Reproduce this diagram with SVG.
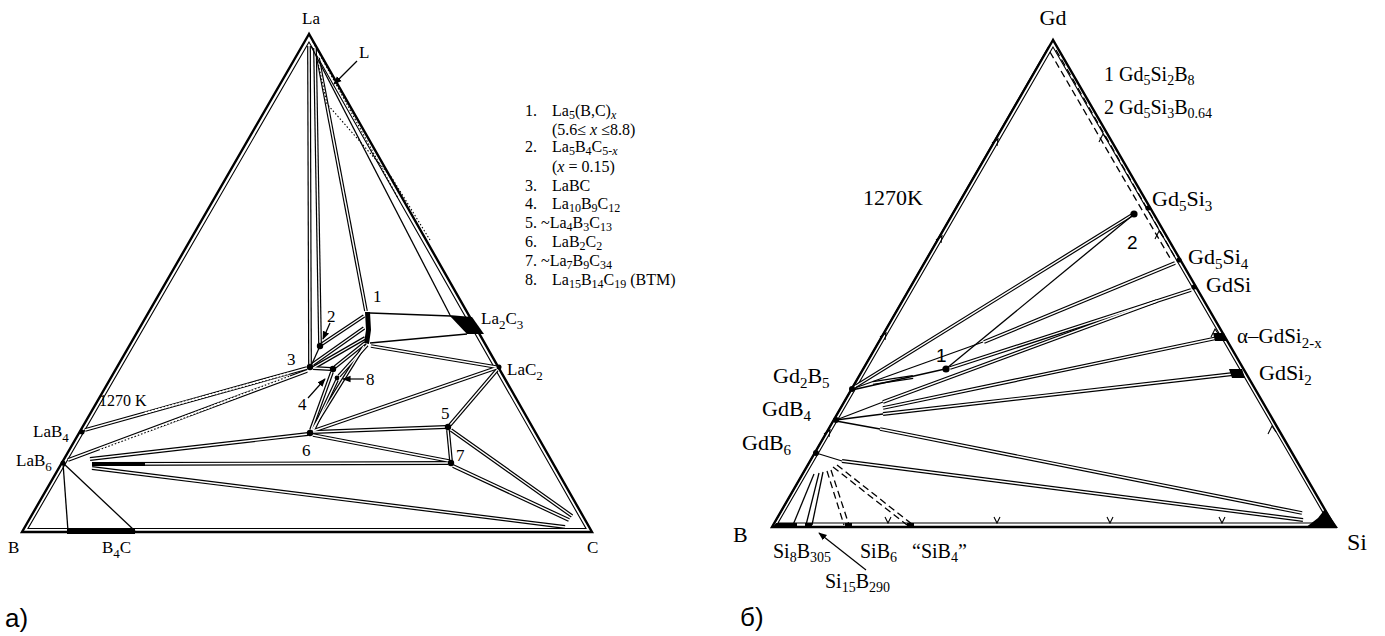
<svg xmlns="http://www.w3.org/2000/svg" width="1385" height="636" viewBox="0 0 1385 636">
<defs>
<style>
.t{font-family:"Liberation Serif","Times New Roman",serif;fill:#000}
.s{font-family:"Liberation Sans",Arial,sans-serif;fill:#000}
.edge{fill:none;stroke:#000;stroke-width:2.4;stroke-linejoin:miter}
.thin{fill:none;stroke:#000;stroke-width:1.1}
.one{fill:none;stroke:#000;stroke-width:1.3}
.dash{fill:none;stroke:#000;stroke-width:1.3;stroke-dasharray:7 4}
.dot{fill:none;stroke:#000;stroke-width:1.1;stroke-dasharray:1.5 2}
.arr{fill:none;stroke:#000;stroke-width:1.2;marker-end:url(#ah)}
.hat{fill:none;stroke:#fff;stroke-width:2;stroke-dasharray:2 1.5}
.blk{fill:#000;stroke:none}
</style>
<marker id="ah" viewBox="0 0 10 10" refX="9" refY="5" markerWidth="7" markerHeight="7" orient="auto"><path d="M0,1 L10,5 L0,9 z" fill="#000"/></marker>
<g id="dblL">
<path d="M309,46 L310,364"/>
<path d="M315,48 L320,343"/>
<path d="M318,58 L366,311"/>
<path d="M371,346 L496,367"/>
<path d="M322,344 L364,316"/>
<path d="M313,364 L364,328"/>
<path d="M313,368 L365,338"/>
<path d="M313,368 L331,369"/>
<path d="M312,430 L364,346"/>
<path d="M311,430 L332,372"/>
<path d="M313,431 L337,380"/>
<path d="M335,367 L365,343"/>
<path d="M339,376 L367,345"/>
<path d="M85,430 L307,368"/>
<path d="M68,460 L307,371"/>
<path d="M90,459 L308,434"/>
<path d="M92,464 L448,463"/>
<path d="M92,468 L565,527"/>
<path d="M313,432 L446,427"/>
<path d="M313,435 L449,461"/>
<path d="M313,431 L496,368"/>
<path d="M450,425 L497,370"/>
<path d="M448,430 L451,461"/>
<path d="M451,430 L572,516"/>
<path d="M453,466 L569,520"/>
</g>
<g id="dblR">
<path d="M856,386 L1132,215"/>
<path d="M984,342 L1175,263"/>
<path d="M950,368 L1191,290"/>
<path d="M873,383 L913,377"/>
<path d="M883,402 L1157,301"/>
<path d="M883,408 L1217,338"/>
<path d="M883,414 L1233,374"/>
<path d="M880,429 L1302,513"/>
<path d="M842,461 L1303,520"/>
</g>
</defs>
<rect width="1385" height="636" fill="#fff"/>

<g id="diagram-a">
<g id="a-frame">
<path class="edge" d="M309,34 L22,532 L592,532 Z"/>
<path class="thin" d="M309,42 L28,528.5 L586,528.5 Z"/>
<rect class="blk" x="67" y="529" width="68" height="5"/>
</g>
<g id="a-connectors">
<use href="#dblL" fill="none" stroke="#000" stroke-width="3.8"/>
<use href="#dblL" fill="none" stroke="#fff" stroke-width="1.4"/>
<path class="hat" d="M145,413 L290,373"/>
<path class="hat" d="M100,450 L290,376"/>
<path d="M92,464 L145,464" stroke="#000" stroke-width="3.8"/>
<path class="one" d="M311,46 L450,315"/>
<path class="one" d="M370,313 L451,316"/>
<path class="one" d="M370,343 L467,334"/>
<path class="one" d="M63,463 L68,531"/>
<path class="one" d="M63,463 L135,531"/>
<path class="one" d="M320,346 L311,366"/>
<path class="dot" d="M313,42 L398,198"/>
<path class="dot" d="M317,58 L327,104 L392,178 L430,240"/>
<path class="arr" d="M357,61 L334,84"/>
<path class="arr" d="M330,323 L323,339"/>
<path class="arr" d="M308,398 L325,379"/>
<path class="arr" d="M364,379 L343,379"/>
</g>
<g id="a-nodes">
<path class="blk" d="M365,312 L370,312 L371,330 L369,344 L364,343 L366,330 Z"/>
<polygon class="blk" points="449,315 472,317 484,334 467,334"/>
<circle class="blk" cx="320" cy="346" r="3.2"/>
<circle class="blk" cx="310" cy="367" r="3.2"/>
<circle class="blk" cx="333" cy="369" r="3.2"/>
<circle class="blk" cx="337" cy="378" r="2.4"/>
<circle class="blk" cx="310" cy="433" r="3.2"/>
<circle class="blk" cx="448" cy="427" r="3.2"/>
<circle class="blk" cx="451" cy="463" r="3.2"/>
<circle class="blk" cx="499" cy="367" r="2.5"/>
<circle class="blk" cx="63" cy="463" r="2.5"/>
<circle class="blk" cx="82" cy="432" r="2.5"/>
</g>
<g id="a-labels" font-size="17">
<text class="t" x="311" y="24" text-anchor="middle">La</text>
<text class="t" x="359" y="58">L</text>
<text class="t" x="99" y="406" font-size="16">1270 K</text>
<text class="t" x="33" y="437">LaB<tspan dy="5" font-size="13">4</tspan></text>
<text class="t" x="16" y="466">LaB<tspan dy="5" font-size="13">6</tspan></text>
<text class="t" x="8" y="553">B</text>
<text class="t" x="102" y="553">B<tspan dy="5" font-size="13">4</tspan><tspan dy="-5">C</tspan></text>
<text class="t" x="587" y="553">C</text>
<text class="t" x="481" y="324">La<tspan dy="5" font-size="13">2</tspan><tspan dy="-5">C</tspan><tspan dy="5" font-size="13">3</tspan></text>
<text class="t" x="507" y="375">LaC<tspan dy="5" font-size="13">2</tspan></text>
<text class="t" x="373" y="302">1</text>
<text class="t" x="327" y="322">2</text>
<text class="t" x="287" y="365">3</text>
<text class="t" x="298" y="410">4</text>
<text class="t" x="366" y="385">8</text>
<text class="t" x="302" y="456">6</text>
<text class="t" x="441" y="419">5</text>
<text class="t" x="456" y="461">7</text>
<g class="t" font-size="16">
<text x="525" y="116">1.</text>
<text x="552" y="116">La<tspan dy="3" font-size="12">5</tspan><tspan dy="-3">(B,C)</tspan><tspan dy="3" font-size="12" font-style="italic">x</tspan></text>
<text x="552" y="135">(5.6≤ <tspan font-style="italic">x</tspan> ≤8.8)</text>
<text x="525" y="152">2.</text>
<text x="552" y="152">La<tspan dy="3" font-size="12">5</tspan><tspan dy="-3">B</tspan><tspan dy="3" font-size="12">4</tspan><tspan dy="-3">C</tspan><tspan dy="3" font-size="12">5-<tspan font-style="italic">x</tspan></tspan></text>
<text x="552" y="172">(<tspan font-style="italic">x</tspan> = 0.15)</text>
<text x="525" y="191">3.</text>
<text x="552" y="191">LaBC</text>
<text x="525" y="209">4.</text>
<text x="552" y="209">La<tspan dy="3" font-size="12">10</tspan><tspan dy="-3">B</tspan><tspan dy="3" font-size="12">9</tspan><tspan dy="-3">C</tspan><tspan dy="3" font-size="12">12</tspan></text>
<text x="525" y="228">5. ~La<tspan dy="3" font-size="12">4</tspan><tspan dy="-3">B</tspan><tspan dy="3" font-size="12">3</tspan><tspan dy="-3">C</tspan><tspan dy="3" font-size="12">13</tspan></text>
<text x="525" y="247">6.</text>
<text x="552" y="247">LaB<tspan dy="3" font-size="12">2</tspan><tspan dy="-3">C</tspan><tspan dy="3" font-size="12">2</tspan></text>
<text x="525" y="266">7. ~La<tspan dy="3" font-size="12">7</tspan><tspan dy="-3">B</tspan><tspan dy="3" font-size="12">9</tspan><tspan dy="-3">C</tspan><tspan dy="3" font-size="12">34</tspan></text>
<text x="525" y="285">8.</text>
<text x="552" y="285">La<tspan dy="3" font-size="12">15</tspan><tspan dy="-3">B</tspan><tspan dy="3" font-size="12">14</tspan><tspan dy="-3">C</tspan><tspan dy="3" font-size="12">19</tspan><tspan dy="-3"> (BTM)</tspan></text>
</g>
<text class="s" x="5" y="627" font-size="26">а)</text>
</g>
</g>

<g id="diagram-b">
<g id="b-frame">
<path class="edge" d="M1053,40 L772,527 L1335,527 Z"/>
<path class="thin" d="M1053,47 L778,523 L1329,523 Z"/>
<path class="one" d="M1049,46 L775,522"/>
<path class="thin" d="M885,517 l3,6 l3,-6 M994,517 l3,6 l3,-6 M1107,517 l3,6 l3,-6 M1219,517 l3,6 l3,-6"/>
<path class="thin" d="M824,434 l6,-4 l-1,7 M880,337 l6,-4 l-1,7 M936,240 l6,-4 l-1,7 M992,143 l6,-4 l-1,7"/>
<path class="thin" d="M1268,434 l4,-8 l4,6 M1211,337 l4,-8 l4,6 M1155,239 l4,-8 l4,6 M1099,142 l4,-8 l4,6"/>
<polygon class="blk" points="1305,528 1338,528 1325,509 1318,518"/>
<polygon class="blk" points="772,528 790,528 790,523 776,523"/>
<rect class="blk" x="790" y="523" width="7" height="5"/>
<rect class="blk" x="805" y="523" width="7" height="5"/>
<rect class="blk" x="845" y="523" width="7" height="5"/>
<rect class="blk" x="907" y="523" width="7" height="5"/>
</g>
<g id="b-connectors">
<use href="#dblR" fill="none" stroke="#000" stroke-width="3.8"/>
<use href="#dblR" fill="none" stroke="#fff" stroke-width="1.4"/>
<path class="one" d="M852,389 L983,342"/>
<path class="one" d="M852,390 L945,369"/>
<path class="one" d="M947,368 L1133,215"/>
<path class="one" d="M836,420 L883,402"/>
<path class="one" d="M836,420 L883,414"/>
<path class="one" d="M836,421 L880,429"/>
<path class="one" d="M816,453 L842,461"/>
<path class="one" d="M814,474 L793,525"/>
<path class="one" d="M819,473 L806,525"/>
<path class="one" d="M823,472 L812,525"/>
<path class="dash" d="M827,471 L844,525 M831,470 L849,525"/>
<path class="dash" d="M833,467 L907,525 M837,465 L913,525"/>
<path class="dash" d="M1050,52 L1170,258 M1056,50 L1176,259"/>
<path class="arr" d="M866,570 L819,533"/>
</g>
<g id="b-nodes">
<circle class="blk" cx="852" cy="389" r="3"/>
<circle class="blk" cx="836" cy="420" r="3"/>
<circle class="blk" cx="816" cy="453" r="3"/>
<circle class="blk" cx="946" cy="369" r="3.6"/>
<circle class="blk" cx="1134" cy="214" r="3.6"/>
<circle class="blk" cx="1148" cy="208" r="2.6"/>
<circle class="blk" cx="1179" cy="260" r="2.6"/>
<circle class="blk" cx="1194" cy="287" r="2.6"/>
<polygon class="blk" points="1213,333 1224,333 1227,341 1215,341"/>
<polygon class="blk" points="1229,369 1242,369 1245,378 1232,378"/>
</g>
<g id="b-labels" font-size="22">
<text class="t" x="1053" y="25" text-anchor="middle">Gd</text>
<text class="t" x="1104" y="81" font-size="20">1 Gd<tspan dy="4" font-size="14">5</tspan><tspan dy="-4">Si</tspan><tspan dy="4" font-size="14">2</tspan><tspan dy="-4">B</tspan><tspan dy="4" font-size="14">8</tspan></text>
<text class="t" x="1104" y="114" font-size="20">2 Gd<tspan dy="4" font-size="14">5</tspan><tspan dy="-4">Si</tspan><tspan dy="4" font-size="14">3</tspan><tspan dy="-4">B</tspan><tspan dy="4" font-size="14">0.64</tspan></text>
<text class="t" x="863" y="205">1270K</text>
<text class="t" x="1152" y="206">Gd<tspan dy="5" font-size="15">5</tspan><tspan dy="-5">Si</tspan><tspan dy="5" font-size="15">3</tspan></text>
<text class="t" x="1188" y="264">Gd<tspan dy="5" font-size="15">5</tspan><tspan dy="-5">Si</tspan><tspan dy="5" font-size="15">4</tspan></text>
<text class="t" x="1206" y="292">GdSi</text>
<text class="t" x="1237" y="343" font-size="21">α–GdSi<tspan dy="5" font-size="15">2-x</tspan></text>
<text class="t" x="1259" y="380">GdSi<tspan dy="5" font-size="15">2</tspan></text>
<text class="t" x="773" y="383">Gd<tspan dy="5" font-size="15">2</tspan><tspan dy="-5">B</tspan><tspan dy="5" font-size="15">5</tspan></text>
<text class="t" x="762" y="416">GdB<tspan dy="5" font-size="15">4</tspan></text>
<text class="t" x="742" y="450">GdB<tspan dy="5" font-size="15">6</tspan></text>
<text class="t" x="733" y="542">B</text>
<text class="t" x="1347" y="550" font-size="24">Si</text>
<text class="t" x="773" y="558" font-size="20">Si<tspan dy="4" font-size="14">8</tspan><tspan dy="-4">B</tspan><tspan dy="4" font-size="14">305</tspan></text>
<text class="t" x="860" y="558" font-size="20">SiB<tspan dy="4" font-size="14">6</tspan></text>
<text class="t" x="912" y="558" font-size="20">“SiB<tspan dy="4" font-size="14">4</tspan><tspan dy="-4">”</tspan></text>
<text class="t" x="825" y="588" font-size="20">Si<tspan dy="4" font-size="14">15</tspan><tspan dy="-4">B</tspan><tspan dy="4" font-size="14">290</tspan></text>
<text class="s" x="1127" y="249" font-size="19">2</text>
<text class="s" x="936" y="362" font-size="19">1</text>
<text class="s" x="740" y="626" font-size="26">б)</text>
</g>
</g>
</svg>
